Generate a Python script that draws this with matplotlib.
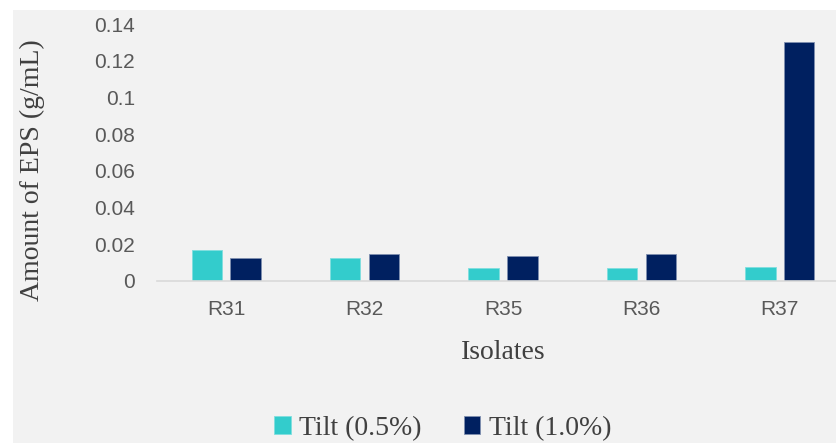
import numpy as np
import matplotlib.pyplot as plt
from matplotlib.patches import Rectangle

# data
isolates = ['R31', 'R32', 'R35', 'R36', 'R37']
tilt_05 = [0.017, 0.0125, 0.007, 0.007, 0.0078]
tilt_10 = [0.0125, 0.0147, 0.0136, 0.0147, 0.130]
series_names = ['Tilt (0.5%)', 'Tilt (1.0%)']

fig = plt.figure(figsize=(8.37, 4.43), dpi=100)
fig.patch.set_facecolor('white')
# gray chart area (white margin top and left)
fig.patches.append(Rectangle((13 / 837, 0), 1, (443 - 10) / 443, transform=fig.transFigure,
                             facecolor='#f2f2f2', edgecolor='none', zorder=-10))

ax = fig.add_axes([157 / 837, (443 - 281) / 443, 692 / 837, 257 / 443])
ax.set_facecolor('none')

x = np.arange(len(isolates))
w = 0.22
ax.bar(x - 0.14, tilt_05, w, color='#33cccc', edgecolor='#7fdede', linewidth=0.6, label=series_names[0])
ax.bar(x + 0.14, tilt_10, w, color='#002060', edgecolor='#8090b0', linewidth=0.6, label=series_names[1])

ax.set_xlim(-0.5, len(isolates) - 0.5)
ax.set_ylim(0, 0.14)
ax.set_yticks(np.arange(0, 0.141, 0.02))
ax.set_yticklabels(['0', '0.02', '0.04', '0.06', '0.08', '0.1', '0.12', '0.14'])
ax.set_xticks(x)
ax.set_xticklabels(isolates)

for s in ['top', 'right', 'left']:
    ax.spines[s].set_visible(False)
ax.spines['bottom'].set_color('#d9d9d9')
ax.spines['bottom'].set_linewidth(1.2)
ax.tick_params(axis='both', length=0, labelcolor='#595959', labelsize=15, labelfontfamily='Liberation Sans')
ax.tick_params(axis='y', pad=16)
ax.tick_params(axis='x', pad=14)

ax.set_ylabel('Amount of EPS (g/mL)', family='Liberation Serif', fontsize=20, color='#404040')
ax.set_xlabel('Isolates', family='Liberation Serif', fontsize=20, color='#404040')
ax.yaxis.set_label_coords(-0.162, 0.43)
ax.xaxis.set_label_coords(0.5, -0.23)

leg = fig.legend(loc='center', bbox_to_anchor=(0.529, 0.033), ncol=2, frameon=False,
                 prop={'family': 'Liberation Serif', 'size': 20}, handlelength=0.6, handleheight=0.6,
                 handletextpad=0.3, columnspacing=1.5, labelcolor='#404040')

fig.savefig('out.png', dpi=100)
